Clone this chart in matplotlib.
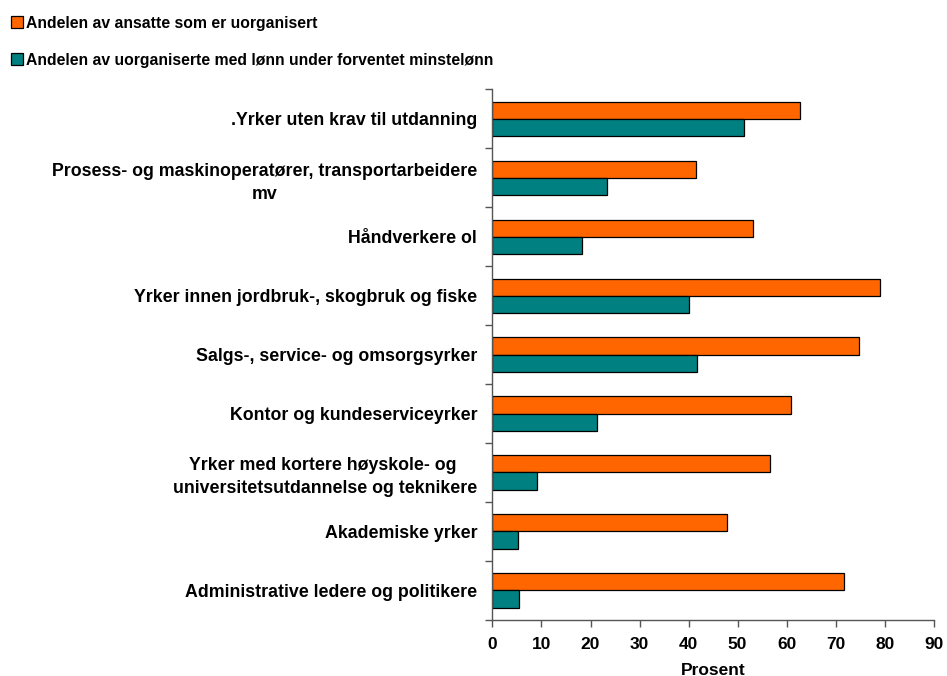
import numpy as np
import matplotlib.pyplot as plt

categories = [
    ".Yrker uten krav til utdanning",
    "Prosess- og maskinoperatører, transportarbeidere\nmv",
    "Håndverkere ol",
    "Yrker innen jordbruk-, skogbruk og fiske",
    "Salgs-, service- og omsorgsyrker",
    "Kontor og kundeserviceyrker",
    "Yrker med kortere høyskole- og \nuniversitetsutdannelse og teknikere",
    "Akademiske yrker",
    "Administrative ledere og politikere",
]
uorganisert = [62.7, 41.6, 53.1, 79.1, 74.7, 60.9, 56.7, 47.8, 71.6]
under_minstelonn = [51.4, 23.3, 18.3, 40.1, 41.8, 21.4, 9.1, 5.2, 5.4]
series_labels = [
    "Andelen av ansatte som er uorganisert",
    "Andelen av uorganiserte med lønn under forventet minstelønn",
]

plt.rcParams["font.family"] = ["Liberation Sans", "DejaVu Sans"]
plt.rcParams["font.weight"] = "bold"
plt.rcParams["axes.labelweight"] = "bold"

fig = plt.figure(figsize=(9.47, 6.76), dpi=100)
ax = fig.add_axes([0.52, 0.083, 0.466, 0.785])

n = len(categories)
pos = np.arange(n)[::-1]  # first category on top
h = 0.29
b1 = ax.barh(pos + h / 2, uorganisert, height=h, color="#FF6600",
             edgecolor="black", linewidth=0.9, label=series_labels[0])
b2 = ax.barh(pos - h / 2, under_minstelonn, height=h, color="#008080",
             edgecolor="black", linewidth=0.9, label=series_labels[1])

ax.set_xlim(0, 90)
ax.set_ylim(-0.5, n - 0.5)
ax.set_xticks(np.arange(0, 91, 10))
ax.tick_params(axis="x", direction="out", length=5, width=1, color="#555555",
               labelsize=12.5, pad=7)

# ticks at category boundaries, labels at the centres
ax.set_yticks(np.arange(n + 1) - 0.5)
ax.set_yticklabels([])
ax.tick_params(axis="y", which="major", direction="out", length=5, width=1,
               color="#555555")
# category labels: right aligned block, lines centred among themselves
for p, cat in zip(pos, categories):
    ax.annotate(cat, xy=(0, p), xycoords=("axes fraction", "data"),
                xytext=(-11, 0), textcoords="offset points",
                ha="right", va="center_baseline", multialignment="center",
                linespacing=1.45, fontsize=12.8)

for s in ["top", "right"]:
    ax.spines[s].set_visible(False)
for s in ["left", "bottom"]:
    ax.spines[s].set_color("#555555")
    ax.spines[s].set_linewidth(1)

ax.set_xlabel("Prosent", fontsize=12.5, labelpad=8)

fig.legend(handles=[b1, b2], labels=series_labels, loc="upper left",
           bbox_to_anchor=(0.0, 0.993), frameon=False, handlelength=0.75,
           handleheight=0.8, handletextpad=0.2, labelspacing=1.4,
           borderaxespad=0.3, fontsize=11.3)

fig.savefig("out.png", dpi=100)
